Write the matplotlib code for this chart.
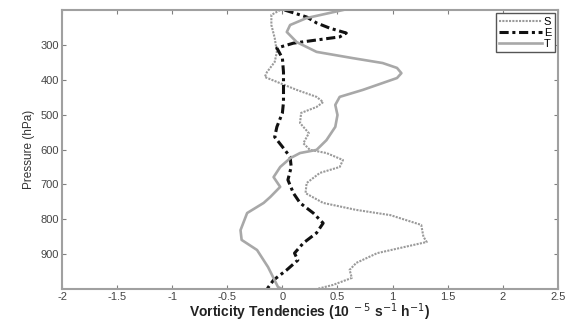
import matplotlib
matplotlib.use("Agg")
import matplotlib.pyplot as plt

plt.rcParams['font.family'] = ['Liberation Sans', 'DejaVu Sans']

# S term (dotted)
s_x = [-0.02, -0.10, -0.10, -0.07, -0.05, -0.07, -0.14, -0.16, -0.05, 0.13, 0.31, 0.37,
       0.31, 0.17, 0.16, 0.24, 0.19, 0.25, 0.40, 0.55, 0.52, 0.34, 0.22, 0.21,
       0.37, 0.67, 0.98, 1.26, 1.28, 1.31, 1.07, 0.86, 0.67, 0.61, 0.63, 0.46, 0.31]
s_p = [200, 214, 243, 280, 320, 349, 378, 392, 406, 429, 449, 464,
       478, 495, 524, 553, 582, 601, 610, 630, 650, 667, 696, 725,
       753, 773, 788, 816, 850, 865, 882, 897, 925, 945, 968, 988, 1000]

# E term (dash-dot)
e_x = [0.02, 0.22, 0.31, 0.43, 0.58, 0.52, 0.31, 0.10, -0.05, 0.00, 0.01, 0.01,
       0.00, -0.05, -0.07, 0.00, 0.07, 0.08, 0.05, 0.10, 0.16, 0.28, 0.37,
       0.31, 0.19, 0.11, 0.14, 0.04, -0.08, -0.14]
e_p = [200, 220, 237, 252, 266, 277, 286, 295, 309, 338, 378, 464,
       495, 535, 564, 592, 621, 650, 687, 725, 753, 782, 811,
       839, 868, 897, 917, 945, 974, 1000]

# T term (solid)
t_x = [0.55, 0.22, 0.07, 0.04, 0.13, 0.31, 0.64, 0.91, 1.04, 1.08, 1.04, 0.73, 0.52,
       0.48, 0.50, 0.48, 0.40, 0.31, 0.16, 0.07, -0.02, -0.08, -0.02, -0.11,
       -0.17, -0.32, -0.38, -0.37, -0.23, -0.13, -0.04, 0.00]
t_p = [200, 223, 243, 263, 292, 320, 338, 352, 366, 381, 395, 429, 449,
       472, 501, 535, 573, 601, 610, 625, 650, 679, 707, 736,
       753, 782, 831, 859, 888, 937, 994, 1000]

xticks = [-2, -1.5, -1, -0.5, 0, 0.5, 1, 1.5, 2, 2.5]
xticklabels = ['-2', '-1.5', '-1', '-0.5', '0', '0.5', '1', '1.5', '2', '2.5']
yticks = [300, 400, 500, 600, 700, 800, 900]

fig = plt.figure(figsize=(5.71, 3.23), dpi=100)
ax = fig.add_axes([0.1086, 0.105, 0.8684, 0.864])

ax.plot(s_x, s_p, color='#9a9a9a', linestyle=(0, (1, 0.6)), linewidth=1.5, label='S')
ax.plot(e_x, e_p, color='#111111', linestyle=(0, (3, 1.2, 1, 1.2)), linewidth=2.2, label='E')
ax.plot(t_x, t_p, color='#a8a8a8', linestyle='-', linewidth=1.9, label='T')

ax.set_xlim(-2, 2.5)
ax.set_ylim(1000, 200)
ax.set_xticks(xticks)
ax.set_xticklabels(xticklabels)
ax.set_yticks(yticks)

for sp in ax.spines.values():
    sp.set_color('#a0a0a0')
    sp.set_linewidth(1.5)
ax.tick_params(direction='in', top=True, right=True, length=3, color='#808080',
               labelsize=8, labelcolor='#444444', pad=2)

ax.set_xlabel('Vorticity Tendencies (10$^{\\ -5}$ s$^{-1}$ h$^{-1}$)', fontsize=10,
              color='#222222', fontweight='bold', labelpad=0)
ax.set_ylabel('Pressure (hPa)', fontsize=8.5, color='#333333', labelpad=4)

leg = ax.legend(loc='upper right', fontsize=8, handlelength=3.8, handletextpad=0.2,
                borderpad=0.3, labelspacing=0.1, fancybox=False, framealpha=1,
                borderaxespad=0.3)
leg.get_frame().set_edgecolor('#555555')
leg.get_frame().set_linewidth(1.0)

fig.savefig('out.png', dpi=100)
